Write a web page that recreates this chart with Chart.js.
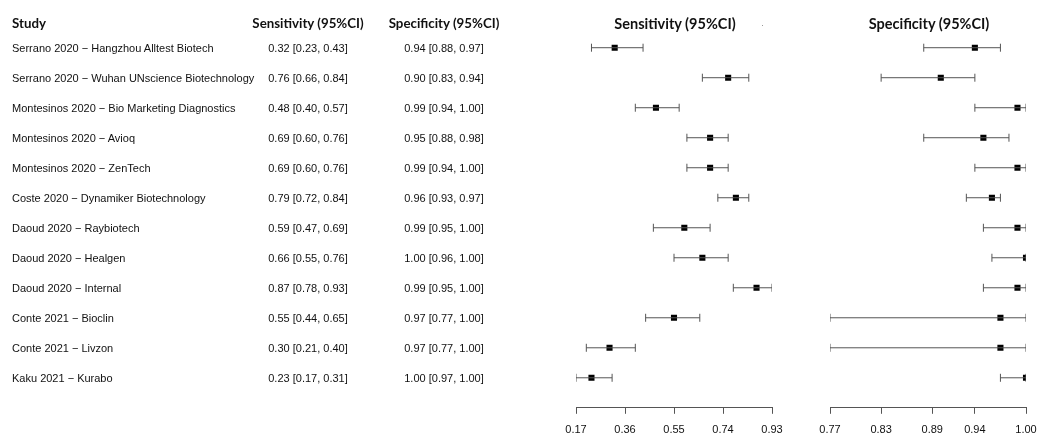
<!DOCTYPE html>
<html>
<head>
<meta charset="utf-8">
<script src="https://cdn.jsdelivr.net/npm/chart.js@4.4.0/dist/chart.umd.min.js"></script>
<style>
  body { margin: 0; background: #fff; }
  #wrap { position: relative; width: 1038px; height: 434px; overflow: hidden; background: #fff; }
  #wrap canvas { position: absolute; left: 0; top: 0; }
  .hd { position: absolute; top: 23px; transform: translateY(-50%); font-family: Lato, "Open Sans", sans-serif;
        font-weight: bold; font-size: 13.3px; color: #111; white-space: nowrap; }
  .hd.big { font-size: 14.5px; }
  .ctr { transform: translate(-50%, -50%); }
  .cell { position: absolute; font-family: "Liberation Sans", Arial, sans-serif; font-size: 11px;
          color: #111; white-space: nowrap; transform: translateY(-50%); }
  .cell.ctr { transform: translate(-50%, -50%); }
</style>
</head>
<body>
<div id="wrap">
  <canvas id="sens" width="1038" height="450"></canvas>
  <canvas id="spec" width="1060" height="450"></canvas>
  <div class="hd" style="left:12px">Study</div>
  <div class="hd ctr" style="left:308px">Sensitivity (95%CI)</div>
  <div class="hd ctr" style="left:444px">Specificity (95%CI)</div>
  <div class="hd big ctr" style="left:675px">Sensitivity (95%CI)</div>
  <div class="hd big ctr" style="left:929px">Specificity (95%CI)</div>
  <div style="position:absolute;left:762px;top:25px;width:1px;height:1px;background:#999"></div>
</div>
<script>
// study rows, top to bottom
var studies = [
    'Serrano 2020 \u2212 Hangzhou Alltest Biotech',
    'Serrano 2020 \u2212 Wuhan UNscience Biotechnology',
    'Montesinos 2020 \u2212 Bio Marketing Diagnostics',
    'Montesinos 2020 \u2212 Avioq',
    'Montesinos 2020 \u2212 ZenTech',
    'Coste 2020 \u2212 Dynamiker Biotechnology',
    'Daoud 2020 \u2212 Raybiotech',
    'Daoud 2020 \u2212 Healgen',
    'Daoud 2020 \u2212 Internal',
    'Conte 2021 \u2212 Bioclin',
    'Conte 2021 \u2212 Livzon',
    'Kaku 2021 \u2212 Kurabo'
];
var sensEst = [0.32, 0.76, 0.48, 0.69, 0.69, 0.79, 0.59, 0.66, 0.87, 0.55, 0.30, 0.23];
var sensLo  = [0.23, 0.66, 0.40, 0.60, 0.60, 0.72, 0.47, 0.55, 0.78, 0.44, 0.21, 0.17];
var sensHi  = [0.43, 0.84, 0.57, 0.76, 0.76, 0.84, 0.69, 0.76, 0.93, 0.65, 0.40, 0.31];
var specEst = [0.94, 0.90, 0.99, 0.95, 0.99, 0.96, 0.99, 1.00, 0.99, 0.97, 0.97, 1.00];
var specLo  = [0.88, 0.83, 0.94, 0.88, 0.94, 0.93, 0.95, 0.96, 0.95, 0.77, 0.77, 0.97];
var specHi  = [0.97, 0.94, 1.00, 0.98, 1.00, 0.97, 1.00, 1.00, 1.00, 1.00, 1.00, 1.00];
var sensTicks = [0.17, 0.36, 0.55, 0.74, 0.93];
var specTicks = [0.77, 0.83, 0.89, 0.94, 1.00];

var lineColor = '#555';

function forest(id, est, lo, hi, ticks, padLeft, padRight) {
    // CI segments: lo -> hi per row, broken by a gap point
    var ci = [];
    for (var i = 0; i < est.length; i++) {
        ci.push({ x: lo[i], y: i + 1 });
        ci.push({ x: hi[i], y: i + 1 });
        ci.push({ x: null, y: null });
    }
    var pts = est.map(function (v, i) { return { x: v, y: i + 1 }; });

    return new Chart(document.getElementById(id), {
        type: 'scatter',
        data: {
            datasets: [{
                data: ci,
                showLine: true,
                spanGaps: false,
                borderColor: lineColor,
                borderWidth: 1,
                pointStyle: 'line',
                pointRotation: 90,
                pointRadius: 4,
                pointBorderColor: lineColor,
                pointBorderWidth: 1
            }, {
                data: pts,
                pointStyle: 'rect',
                pointRadius: 4.3,
                backgroundColor: '#000',
                borderWidth: 0
            }]
        },
        options: {
            responsive: false,
            animation: false,
            events: [],
            layout: { padding: { left: padLeft, right: padRight, top: 32.7, bottom: 3 } },
            plugins: { legend: { display: false }, tooltip: { enabled: false } },
            scales: {
                x: {
                    type: 'linear',
                    min: ticks[0],
                    max: ticks[ticks.length - 1],
                    afterBuildTicks: function (s) { s.ticks = ticks.map(function (v) { return { value: v }; }); },
                    ticks: {
                        autoSkip: false, maxRotation: 0, padding: 10,
                        color: '#111',
                        font: { family: '"Liberation Sans", Arial, sans-serif', size: 11 },
                        callback: function (v) { return v.toFixed(2); }
                    },
                    grid: { drawOnChartArea: false, drawTicks: true, tickLength: 6, color: lineColor },
                    border: { color: lineColor, width: 1 }
                },
                y: { type: 'linear', reverse: true, min: 0.5, max: 13.0, display: false }
            }
        }
    });
}

var sensChart = forest('sens', sensEst, sensLo, sensHi, sensTicks, 576, 266);
var specChart = forest('spec', specEst, specLo, specHi, specTicks, 830, 34);

// left-hand table, rows placed on the chart's own y scale
var wrap = document.getElementById('wrap');
function cell(text, x, y, centered) {
    var d = document.createElement('div');
    d.className = centered ? 'cell ctr' : 'cell';
    d.style.left = x + 'px';
    d.style.top = y + 'px';
    d.textContent = text;
    wrap.appendChild(d);
}
function fmt(e, l, h) { return e.toFixed(2) + ' [' + l.toFixed(2) + ', ' + h.toFixed(2) + ']'; }
for (var i = 0; i < studies.length; i++) {
    var y = sensChart.scales.y.getPixelForValue(i + 1);
    cell(studies[i], 12, y, false);
    cell(fmt(sensEst[i], sensLo[i], sensHi[i]), 308, y, true);
    cell(fmt(specEst[i], specLo[i], specHi[i]), 444, y, true);
}
</script>
</body>
</html>
